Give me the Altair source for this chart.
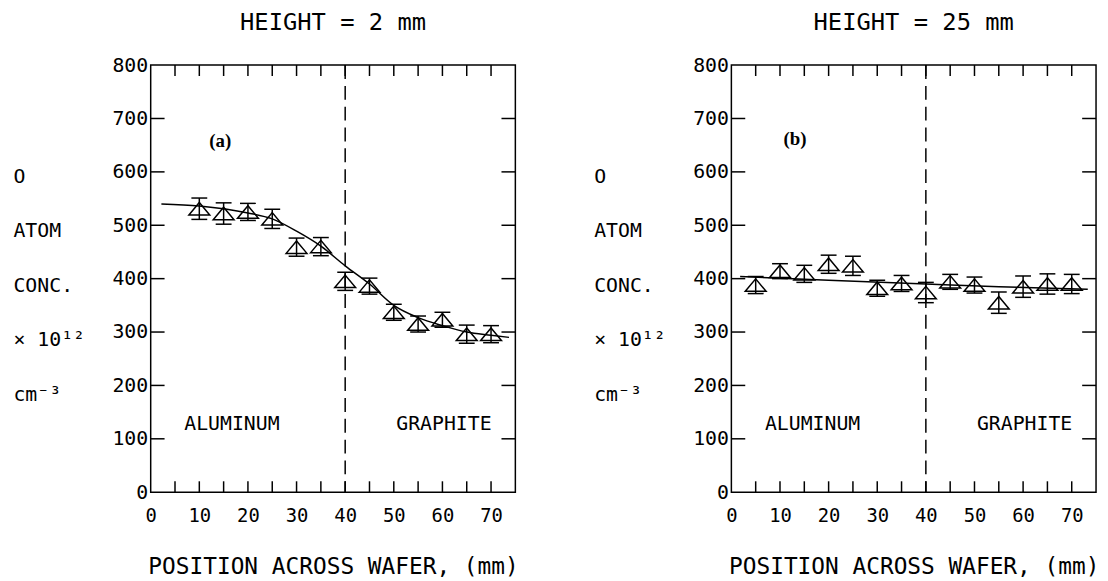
import altair as alt
import pandas as pd

# ---------------- data ----------------
# panel (a): HEIGHT = 2 mm
pos_a = [10, 15, 20, 25, 30, 35, 40, 45, 50, 55, 60, 65, 70]
conc_a = [531, 522, 525, 512, 459, 460, 395, 386, 337, 315, 323, 296, 296]
err_a = [20, 20, 16, 18, 17, 17, 17, 15, 15, 15, 14, 17, 16]
fit_pos_a = [2.2, 10, 20, 25, 30, 35, 40, 45, 50, 55, 60, 65, 70, 73.7]
fit_conc_a = [540, 536, 523, 512, 489, 461, 424, 390, 350, 327, 312, 300, 294, 290]

# panel (b): HEIGHT = 25 mm
pos_b = [5, 10, 15, 20, 25, 30, 35, 40, 45, 50, 55, 60, 65, 70]
conc_b = [388, 414, 409, 427, 424, 382, 391, 374, 394, 388, 355, 385, 390, 390]
err_b = [16, 14, 16, 17, 18, 15, 15, 19, 14, 15, 20, 20, 19, 18]
fit_pos_b = [1.8, 20, 40, 55, 73.3]
fit_conc_b = [404, 397, 390, 385, 380]

titles = ["HEIGHT = 2 mm", "HEIGHT = 25 mm"]
panel_tags = ["(a)", "(b)"]
tag_x = [14.3, 13.1]
tag_y = [658, 662]
region_labels = ["ALUMINUM", "GRAPHITE"]
region_x = [16.7, 60.3]
region_y = [127, 127]
boundary_x = [40]

x_label_values = [0, 10, 20, 30, 40, 50, 60, 70]
y_label_values = [0, 100, 200, 300, 400, 500, 600, 700, 800]
x_minor = [5, 10, 15, 20, 25, 30, 35, 40, 45, 50, 55, 60, 65, 70]
y_minor = [100, 200, 300, 400, 500, 600, 700]
x_domain = [0, 75]
y_domain = [0, 800]

x_title = "POSITION ACROSS WAFER, (mm)"
y_title_lines = ["O", "ATOM", "CONC.", "× 10¹²", "cm⁻³"]

# ---------------- styling ----------------
FONT = "DejaVu Sans Mono"
W, H = 368, 431
XT = 11   # x tick length (px)
YT = 14   # y tick length (px)
TRI = "M-1,0.6L0,-0.6L1,0.6Z"

xsc = alt.Scale(domain=x_domain, nice=False, zero=False)
ysc = alt.Scale(domain=y_domain, nice=False, zero=False)

xaxis = alt.Axis(values=x_label_values, ticks=False, tickSize=0, domain=False,
                 grid=False, labelFont=FONT, labelFontSize=19, labelPadding=15,
                 labelFlush=False, labelOverlap=False, labelColor="black",
                 title=x_title, titleFont=FONT, titleFontSize=23,
                 titleFontWeight="normal", titleColor="black",
                 titleBaseline="alphabetic", titleY=82)
yaxis = alt.Axis(values=y_label_values, ticks=False, tickSize=0, domain=False,
                 grid=False, labelFont=FONT, labelFontSize=20, labelPadding=3,
                 labelFlush=False, labelOverlap=False, labelColor="black",
                 title=y_title_lines, titleFont=FONT, titleFontSize=20,
                 titleFontWeight="normal", titleColor="black", titleAngle=0,
                 titleAlign="left", titleBaseline="top", titleX=-139,
                 titleY=102, titleLineHeight=55)


def X(f="x"):
    return alt.X(f + ":Q", scale=xsc, axis=xaxis)


def Y(f="y"):
    return alt.Y(f + ":Q", scale=ysc, axis=yaxis)


def panel(xs, ys, errs, fxs, fys, title, tag, tx, ty):
    pts = pd.DataFrame({
        "x": xs, "y": ys,
        "lo": [v - e for v, e in zip(ys, errs)],
        "hi": [v + e for v, e in zip(ys, errs)],
    })
    fit = pd.DataFrame({"x": fxs, "y": fys})
    labels = pd.DataFrame({"x": region_x, "y": region_y, "t": region_labels})
    tagdf = pd.DataFrame({"x": [tx], "y": [ty], "t": [tag]})
    xs_df = pd.DataFrame({"x": x_minor})
    ys_df = pd.DataFrame({"y": y_minor})
    bd = pd.DataFrame({"x": boundary_x})

    line = alt.Chart(fit).mark_line(color="black", strokeWidth=1.5,
                                    interpolate="monotone").encode(x=X(), y=Y())

    bars = alt.Chart(pts).mark_rule(color="black", strokeWidth=1.5).encode(
        x=X(), y=Y("lo"), y2="hi")
    cap_lo = alt.Chart(pts).mark_rule(color="black", strokeWidth=1.5,
                                      xOffset=-8, x2Offset=8).encode(
        x=X(), x2="x", y=Y("lo"))
    cap_hi = alt.Chart(pts).mark_rule(color="black", strokeWidth=1.5,
                                      xOffset=-8, x2Offset=8).encode(
        x=X(), x2="x", y=Y("hi"))
    tri = alt.Chart(pts).mark_point(shape=TRI, size=441, filled=False,
                                    color="black", strokeWidth=1.5,
                                    opacity=1).encode(x=X(), y=Y())

    dash = alt.Chart(bd).mark_rule(color="black", strokeWidth=1.5,
                                   strokeDash=[14, 7]).encode(x=X())

    xt_bot = alt.Chart(xs_df).mark_rule(color="black", strokeWidth=1.5).encode(
        x=X(), y=alt.value(H), y2=alt.value(H - XT))
    xt_top = alt.Chart(xs_df).mark_rule(color="black", strokeWidth=1.5).encode(
        x=X(), y=alt.value(0), y2=alt.value(XT))
    yt_l = alt.Chart(ys_df).mark_rule(color="black", strokeWidth=1.5).encode(
        y=Y(), x=alt.value(0), x2=alt.value(YT))
    yt_r = alt.Chart(ys_df).mark_rule(color="black", strokeWidth=1.5).encode(
        y=Y(), x=alt.value(W - YT), x2=alt.value(W))

    reg = alt.Chart(labels).mark_text(font=FONT, fontSize=20, color="black",
                                      align="center", baseline="middle").encode(
        x=X(), y=Y(), text="t:N")
    tagm = alt.Chart(tagdf).mark_text(font="Liberation Serif", fontSize=19,
                                      fontWeight="bold", color="black",
                                      align="center", baseline="middle").encode(
        x=X(), y=Y(), text="t:N")

    return alt.layer(line, dash, xt_bot, xt_top, yt_l, yt_r, bars,
                     cap_lo, cap_hi, tri, reg, tagm).properties(
        width=W, height=H,
        title=alt.TitleParams(title, font=FONT, fontSize=24, fontWeight="normal",
                              color="black", baseline="bottom", offset=-4),
    )


left = panel(pos_a, conc_a, err_a, fit_pos_a, fit_conc_a, titles[0],
             panel_tags[0], tag_x[0], tag_y[0])
right = panel(pos_b, conc_b, err_b, fit_pos_b, fit_conc_b, titles[1],
              panel_tags[1], tag_x[1], tag_y[1])

chart = alt.hconcat(left, right, spacing=74).properties(
    padding={"left": 4, "top": 0, "right": 0, "bottom": 0},
    background="white",
).configure_view(stroke="black", strokeWidth=1.5)

chart.save("out.html", embed_options={"renderer": "svg", "actions": False})
